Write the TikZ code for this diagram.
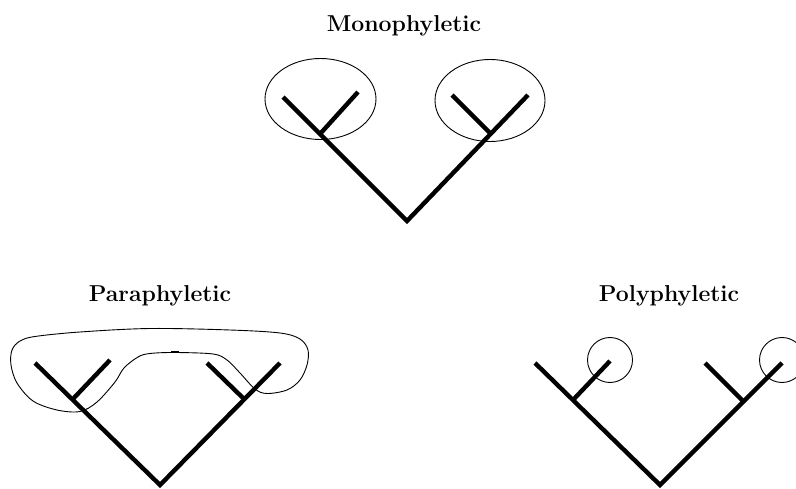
\documentclass[tikz,border=0pt]{standalone}
\usepackage{fontspec}
\begin{document}
\begin{tikzpicture}[x=1pt,y=-1pt,
  branch/.style={line width=4.4pt, line join=miter},
  outline/.style={line width=0.9pt},
  title/.style={font=\fontsize{23}{27}\selectfont\bfseries, anchor=base, inner sep=0pt}]
\clip (0,0) rectangle (796,489);
\path[use as bounding box] (0,0) rectangle (796,489);
\fill[white] (0,0) rectangle (796,489);

% ---------- Monophyletic ----------
\node[title] (tmono) at (404,31.5) {Monophyletic};
\coordinate (mR) at (407,221);
\coordinate (mLt) at (283,97);
\coordinate (mLi) at (320,134);
\coordinate (mLc) at (358,92);
\coordinate (mRt) at (528,95);
\coordinate (mRi) at (490,133);
\coordinate (mRc) at (452,95);
\draw[branch] (mLt) -- (mR) -- (mRt);
\draw[branch] (mLi) -- (mLc);
\draw[branch] (mRi) -- (mRc);
\draw[outline] (320.5,99) ellipse [x radius=55.5, y radius=40.5];
\draw[outline] (490,100.5) ellipse [x radius=55, y radius=41];

% ---------- Paraphyletic ----------
\node[title] (tpara) at (160,301.5) {Paraphyletic};
\coordinate (pR) at (160,485);
\coordinate (pLt) at (35,363);
\coordinate (pLi) at (72,400);
\coordinate (pLc) at (110,360);
\coordinate (pRt) at (280,363);
\coordinate (pRi) at (243,398);
\coordinate (pRc) at (207,363);
\draw[branch] (pLt) -- (pR) -- (pRt);
\draw[branch] (pLi) -- (pLc);
\draw[branch] (pRi) -- (pRc);
\draw[outline] plot[smooth cycle, tension=0.55] coordinates {
  (150,328.5) (230,330) (280,333) (300,339) (308,350) (307,365) (300,380)
  (287,390) (267,393.5) (255,389) (240,373) (227,360) (213,354)
  (175,352.5) (150,353.5) (138,357) (124,368) (115,382) (97,402)
  (80,411.5) (57,410) (33,401) (17,383) (11,365) (12,350) (20,341) (35,336.5) (80,332)};
\draw[line width=2pt] (171,352.3) -- (179,352.3);

% ---------- Polyphyletic ----------
\node[title] (tpoly) at (669,301.5) {Polyphyletic};
\coordinate (yR) at (660,485);
\coordinate (yLt) at (535,363);
\coordinate (yLi) at (573,400);
\coordinate (yLc) at (610,361);
\coordinate (yRt) at (782,363);
\coordinate (yRi) at (743,401);
\coordinate (yRc) at (705,363);
\draw[branch] (yLt) -- (yR) -- (yRt);
\draw[branch] (yLi) -- (yLc);
\draw[branch] (yRi) -- (yRc);
\draw[outline] (610,360) circle [radius=22.5];
\draw[outline] (782,360) circle [radius=22.5];
\end{tikzpicture}
\end{document}
